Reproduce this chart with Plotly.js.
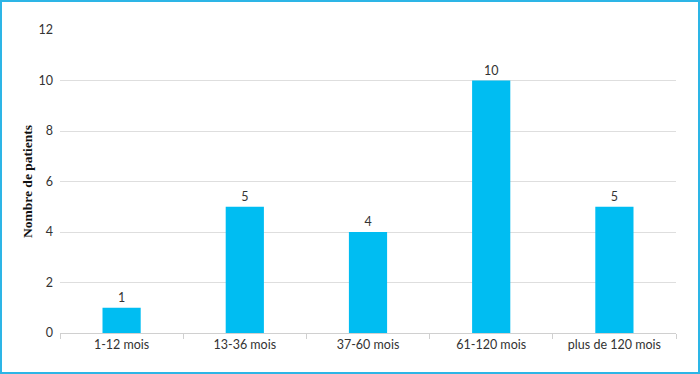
<!DOCTYPE html>
<html>
<head>
<meta charset="utf-8">
<script src="https://cdn.plot.ly/plotly-3.0.1.min.js"></script>
<style>
html,body{margin:0;padding:0;background:#fff;}
#wrap{position:absolute;left:0;top:0;width:696px;height:370px;border:2px solid #2DB5E6;}
#chart{width:696px;height:370px;}
</style>
</head>
<body>
<div id="wrap"><div id="chart"></div></div>
<script>
var categories = ["1-12 mois", "13-36 mois", "37-60 mois", "61-120 mois", "plus de 120 mois"];
var patients = [1, 5, 4, 10, 5];
var yTicks = [0, 2, 4, 6, 8, 10, 12];

var trace = {
  type: "bar",
  x: categories,
  y: patients,
  text: patients.map(String),
  textposition: "outside",
  textfont: {family: "Lato, 'Open Sans', sans-serif", size: 12.5, color: "#333"},
  cliponaxis: false,
  marker: {color: "#00BDF2"},
  width: 0.31,
  hoverinfo: "none"
};

var layout = {
  width: 696, height: 370,
  margin: {l: 58, r: 22, t: 28, b: 39},
  paper_bgcolor: "#fff", plot_bgcolor: "#fff",
  showlegend: false,
  font: {family: "Lato, 'Open Sans', sans-serif", size: 12.5, color: "#333"},
  xaxis: {
    type: "category",
    showgrid: false,
    showline: true, linecolor: "#d0d0d0", linewidth: 1,
    ticks: "outside", tickson: "boundaries", ticklen: 5, tickcolor: "#d0d0d0",
    tickfont: {size: 12.5, color: "#333"},
    zeroline: false
  },
  yaxis: {
    range: [0, 12],
    tickvals: yTicks,
    ticktext: yTicks.map(String),
    showgrid: true, gridcolor: "#dedede", gridwidth: 1,
    zeroline: false, showline: false,
    ticks: "", ticklen: 0,
    ticklabelstandoff: 6,
    tickfont: {size: 12.5, color: "#333"},
    title: {text: "Nombre de patients", font: {family: "'Liberation Serif', 'DejaVu Serif', serif", size: 13.5, color: "#111", weight: "bold"}, standoff: 2}
  },
  bargap: 0.69
};

Plotly.newPlot("chart", [trace], layout, {displayModeBar: false, staticPlot: true});
</script>
</body>
</html>
